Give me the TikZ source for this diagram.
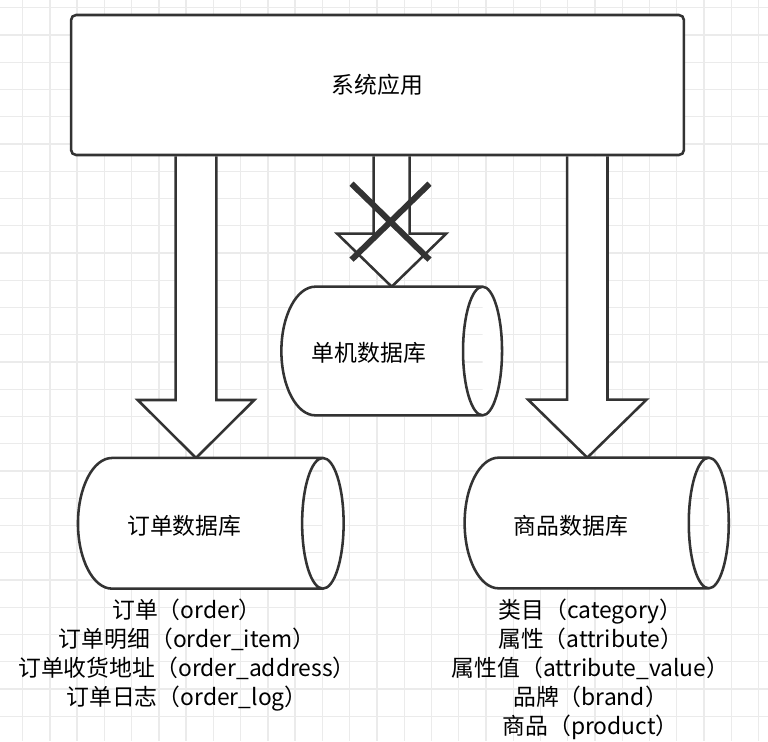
\documentclass[tikz,border=0pt]{standalone}
\usepackage{fontspec}
\setmainfont{Noto Sans CJK SC}
\usetikzlibrary{shapes.misc,calc,backgrounds}
\definecolor{lineGray}{HTML}{333333}
\definecolor{gridGray}{HTML}{EBEBEB}
\begin{document}
\begin{tikzpicture}[x=0.02cm,y=-0.02cm,
  font=\fontsize{13}{16.5}\selectfont,
  gridLine/.style={draw=gridGray,line width=0.8pt},
  shapeLine/.style={draw=lineGray,line width=1.45pt,fill=white},
  appBox/.style={shapeLine,rectangle,rounded corners=0.1cm,minimum width=12.26cm,minimum height=2.8cm},
  dbCyl/.style={rectangle,inner sep=0pt,minimum height=2.6cm},
  fatArrow/.style={shapeLine,line join=miter},
  crossMark/.style={draw=lineGray,cross out,line width=0.12cm,minimum width=1.44cm,minimum height=1.4cm},
  tableList/.style={align=center,inner sep=0pt,anchor=north}]
   \newcommand{\fatArrowDown}[4]{
        \draw[fatArrow] let \p1=(app.south), \p2=(#1) in
          (\x2-#2,\y1) -- (\x2-#2,\y2+#4) -- (\x2-#3,\y2+#4) -- (\x2,\y2)
          -- (\x2+#3,\y2+#4) -- (\x2+#2,\y2+#4) -- (\x2+#2,\y1);
    }
   % #2 = radius of the right end, #3 = bulge of the left end
   \newcommand{\cylOutline}[3]{
        \draw[shapeLine] let \p1=(#1.north west), \p2=(#1.south east), \n1={(\y1-\y2)/2} in
          (\x1+#3,\y1) -- (\x2-#2,\y1)
          arc[start angle=90,end angle=-90,x radius=#2,y radius=\n1]
          -- (\x1+#3,\y2)
          arc[start angle=270,end angle=90,x radius=#3,y radius=\n1] -- cycle
          (\x2-#2,\y1) arc[start angle=90,end angle=270,x radius=#2,y radius=\n1];
    }
\useasboundingbox (0,0) rectangle (768,741);
% application and databases
\node[appBox] (app) at (377.5,85) {系统应用};
\node[dbCyl,minimum width=4.4cm,minimum height=2.56cm] (singleDB) at (391.7,351) {};
\node[dbCyl,minimum width=5.3cm] (orderDB) at (210.8,523.3) {};
\node[dbCyl,minimum width=5.27cm] (goodsDB) at (596.7,523) {};
\cylOutline{singleDB}{0.39cm}{0.68cm}
\cylOutline{orderDB}{0.415cm}{0.68cm}
\cylOutline{goodsDB}{0.4cm}{0.68cm}
\node (singleText) at ($(singleDB)+(-22.7,2)$) {单机数据库};
\node (orderText) at ($(orderDB)+(-26.5,2.7)$) {订单数据库};
\node (goodsText) at ($(goodsDB)+(-25.7,3)$) {商品数据库};
% grid and arrows go behind
\begin{scope}[on background layer]
\foreach \gx in {0,...,27}
  \draw[gridLine] (22.7+27.25*\gx,0) -- (22.7+27.25*\gx,741);
\foreach \gy in {0,...,26}
  \draw[gridLine] (0,7.7+27.25*\gy) -- (768,7.7+27.25*\gy);
\fatArrowDown{$(orderDB.north)+(-14.8,0)$}{0.407cm}{1.166cm}{1.16cm}
\fatArrowDown{singleDB.north}{0.36cm}{1.09cm}{1.06cm}
\fatArrowDown{$(goodsDB.north)+(-9.4,0)$}{0.404cm}{1.184cm}{1.16cm}
\end{scope}
\node[crossMark] (noAccess) at (390.5,221.7) {};
% tables
\node[tableList] (orderTables) at (187,599) {订单（order）\\订单明细（order\_item）\\订单收货地址（order\_address）\\订单日志（order\_log）};
\node[tableList] (goodsTables) at (590.5,599) {类目（category）\\属性（attribute）\\属性值（attribute\_value）\\品牌（brand）\\商品（product）};
\end{tikzpicture}
\end{document}
